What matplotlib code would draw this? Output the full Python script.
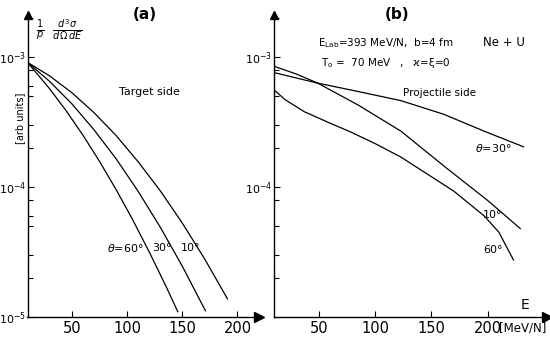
import matplotlib
matplotlib.use("Agg")
import matplotlib.pyplot as plt
from matplotlib.ticker import LogLocator, NullFormatter, FixedLocator

plt.rcParams['font.family'] = ['DejaVu Sans']
plt.rcParams['mathtext.fontset'] = 'dejavusans'

# panel (a): target side
a60_E = [10, 30, 45, 60, 75, 90, 105, 120, 135, 146]
a60_y = [9.1e-4, 5.71e-4, 3.86e-4, 2.52e-4, 1.585e-4, 9.63e-5, 5.65e-5, 3.19e-5, 1.75e-5, 1.1e-5]
a30_E = [10, 30, 50, 70, 90, 110, 130, 150, 171]
a30_y = [9.1e-4, 6.5e-4, 4.38e-4, 2.77e-4, 1.66e-4, 9.31e-5, 4.94e-5, 2.47e-5, 1.12e-5]
a10_E = [10, 30, 50, 70, 90, 110, 130, 150, 170, 191]
a10_y = [9.1e-4, 7.16e-4, 5.33e-4, 3.75e-4, 2.5e-4, 1.57e-4, 9.4e-5, 5.3e-5, 2.83e-5, 1.38e-5]

# panel (b): projectile side
b10_E = [10, 30, 49, 85, 123, 163, 200, 229]
b10_y = [8.5e-4, 7.4e-4, 6.3e-4, 4.27e-4, 2.69e-4, 1.41e-4, 7.9e-5, 4.8e-5]
b30_E = [10, 30, 49, 85, 123, 161, 197, 232]
b30_y = [7.6e-4, 6.9e-4, 6.3e-4, 5.43e-4, 4.62e-4, 3.63e-4, 2.69e-4, 2.04e-4]
b60_E = [10, 20, 37, 60, 78, 100, 123, 141, 170, 197, 210, 223]
b60_y = [5.6e-4, 4.7e-4, 3.8e-4, 3.1e-4, 2.66e-4, 2.16e-4, 1.7e-4, 1.35e-4, 9.3e-5, 6.0e-5, 4.5e-5, 2.75e-5]

x_ticks = [50, 100, 150, 200]
y_ticks = [1e-5, 1e-4, 1e-3]
y_labels_a = [r'$10^{-5}$', r'$10^{-4}$', r'$10^{-3}$']
y_labels_b = ['', r'$10^{-4}$', r'$10^{-3}$']

fig = plt.figure(figsize=(5.5, 3.44), dpi=100)
ax1 = fig.add_axes([0.05, 0.078, 0.42, 0.878])
ax2 = fig.add_axes([0.498, 0.078, 0.497, 0.878])


def style(ax, xmax, subs, ylabels):
    ax.set_yscale('log')
    ax.set_xlim(10, xmax)
    ax.set_ylim(1e-5, 2.1e-3)
    for s in ['top', 'right']:
        ax.spines[s].set_visible(False)
    for s in ['left', 'bottom']:
        ax.spines[s].set_linewidth(1.0)
    ax.xaxis.set_major_locator(FixedLocator(x_ticks))
    ax.set_xticklabels([str(t) for t in x_ticks], fontsize=10.5)
    ax.yaxis.set_major_locator(FixedLocator(y_ticks))
    ax.set_yticklabels(ylabels, fontsize=8)
    ax.yaxis.set_minor_locator(LogLocator(base=10, subs=subs))
    ax.yaxis.set_minor_formatter(NullFormatter())
    ax.tick_params(axis='x', direction='in', length=4, width=0.8, pad=3)
    ax.tick_params(axis='y', direction='in', length=4, width=0.8, pad=1)
    ax.tick_params(which='minor', direction='in', length=3.5, width=0.8)
    ax.plot(1, 0, '>k', ms=7, transform=ax.transAxes, clip_on=False)
    ax.plot(0, 1, '^k', ms=6, transform=ax.transAxes, clip_on=False)


style(ax1, 219, (2, 3, 5, 6, 8), y_labels_a)
style(ax2, 253, (2, 3, 5, 8), y_labels_b)

lw = 0.9
ax1.plot(a60_E, a60_y, color='black', lw=lw)
ax1.plot(a30_E, a30_y, color='black', lw=lw)
ax1.plot(a10_E, a10_y, color='black', lw=lw)

ax2.plot(b10_E, b10_y, color='black', lw=lw)
ax2.plot(b30_E, b30_y, color='black', lw=lw)
ax2.plot(b60_E, b60_y, color='black', lw=lw)

# text panel (a)
fig.text(0.264, 0.959, '(a)', fontsize=11, fontweight='bold', ha='center', va='center')
fig.text(0.066, 0.91, r'$\frac{1}{p}\ \ \frac{d^3\sigma}{d\Omega\,dE}$', fontsize=10,
         ha='left', va='center')
fig.text(0.036, 0.655, '[arb units]', fontsize=7, rotation=90, ha='center', va='center')
ax1.text(93, 5.4e-4, 'Target side', fontsize=8, va='center')
ax1.text(82, 3.4e-5, r'$\theta$=60°', fontsize=8, va='center')
ax1.text(123, 3.4e-5, '30°', fontsize=8, va='center')
ax1.text(149, 3.4e-5, '10°', fontsize=8, va='center')

# text panel (b)
fig.text(0.722, 0.959, '(b)', fontsize=11, fontweight='bold', ha='center', va='center')
ax2.text(49, 1.29e-3, r'E$_{\rm Lab}$=393 MeV/N,  b=4 fm', fontsize=7.5, va='center')
ax2.text(52, 9.0e-4, r'T$_{\rm o}$ =  70 MeV   ,   ϰ=ξ=0', fontsize=7.5, va='center')
ax2.text(196, 1.3e-3, 'Ne + U', fontsize=8.5, va='center')
ax2.text(125, 5.3e-4, 'Projectile side', fontsize=7.5, va='center')
ax2.text(189, 2.0e-4, r'$\theta$=30°', fontsize=8, va='center')
ax2.text(196, 6.1e-5, '10°', fontsize=8, va='center')
ax2.text(196, 3.3e-5, '60°', fontsize=8, va='center')
ax2.text(229, 1.25e-5, 'E', fontsize=10, va='center')
fig.text(0.908, 0.047, '[MeV/N]', fontsize=8.5, ha='left', va='center')

fig.savefig('out.png', dpi=100)
